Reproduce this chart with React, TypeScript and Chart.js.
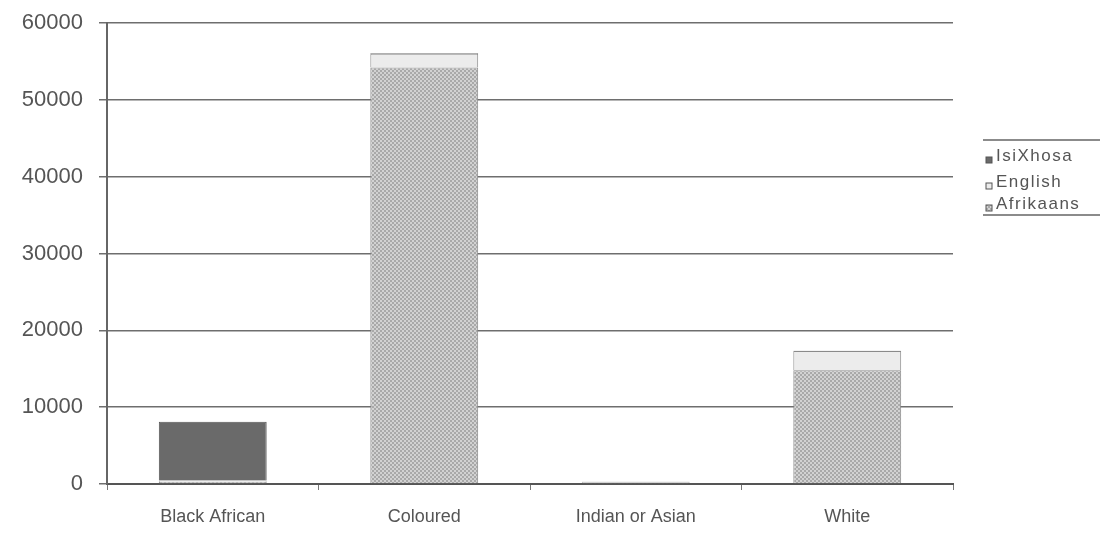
import React, { useEffect, useRef } from "react";
import { Chart, registerables } from "chart.js";

Chart.register(...registerables);

const categories = ["Black African", "Coloured", "Indian or Asian", "White"];
const afrikaans = [300, 54200, 150, 14800];
const english = [150, 1800, 100, 2500];
const isiXhosa = [7650, 100, 50, 50];
const yTicks = [0, 10000, 20000, 30000, 40000, 50000, 60000];
const legendLabels = ["IsiXhosa", "English", "Afrikaans"];

const FONT = "'Liberation Sans', Arial, sans-serif";

function makePattern(): CanvasPattern | string {
  const c = document.createElement("canvas");
  c.width = 4;
  c.height = 4;
  const ctx = c.getContext("2d");
  if (!ctx) return "#b0b0b0";
  ctx.fillStyle = "#a9a9a9";
  ctx.fillRect(0, 0, 4, 4);
  ctx.fillStyle = "#d2d2d2";
  ctx.fillRect(0, 0, 2, 2);
  ctx.fillRect(2, 2, 2, 2);
  const p = ctx.createPattern(c, "repeat");
  return p || "#b0b0b0";
}

export default function App() {
  const ref = useRef<HTMLCanvasElement | null>(null);
  useEffect(() => {
    if (!ref.current) return;
    const pattern = makePattern();
    const colors = { IsiXhosa: "#6a6a6a", English: "#ececec", Afrikaans: pattern };
    const legendPlugin = {
      id: "customLegend",
      afterDraw(chart: any) {
        const ctx = chart.ctx;
        ctx.save();
        ctx.strokeStyle = "#666";
        ctx.lineWidth = 1.5;
        ctx.beginPath();
        ctx.moveTo(983, 140);
        ctx.lineTo(1100, 140);
        ctx.moveTo(983, 215);
        ctx.lineTo(1100, 215);
        ctx.stroke();
        const ys = [156, 182, 204];
        const fills: any[] = [colors.IsiXhosa, colors.English, colors.Afrikaans];
        ctx.font = "17px " + FONT;
        try {
          (ctx as any).letterSpacing = "1.5px";
        } catch (e) {}
        ctx.textBaseline = "middle";
        ctx.textAlign = "left";
        legendLabels.forEach((lab, i) => {
          ctx.fillStyle = fills[i];
          ctx.fillRect(986, ys[i] + 1, 6, 6);
          ctx.strokeStyle = "#555";
          ctx.lineWidth = 1;
          ctx.strokeRect(986, ys[i] + 1, 6, 6);
          ctx.fillStyle = "#555";
          ctx.fillText(lab, 996, ys[i]);
        });
        ctx.restore();
      },
    };
    const chart = new Chart(ref.current, {
      type: "bar",
      data: {
        labels: categories,
        datasets: [
          {
            label: "Afrikaans",
            data: afrikaans,
            backgroundColor: colors.Afrikaans as any,
            borderColor: "#8a8a8a",
            borderWidth: 1,
          },
          {
            label: "English",
            data: english,
            backgroundColor: colors.English,
            borderColor: "#8a8a8a",
            borderWidth: 1,
          },
          {
            label: "IsiXhosa",
            data: isiXhosa,
            backgroundColor: colors.IsiXhosa,
            borderColor: "#555",
            borderWidth: 1,
          },
        ],
      },
      plugins: [legendPlugin],
      options: {
        animation: false,
        responsive: false,
        maintainAspectRatio: false,
        layout: { padding: { left: 0, right: 153, top: 23, bottom: 0 } },
        plugins: { legend: { display: false }, tooltip: { enabled: false } },
        datasets: { bar: { categoryPercentage: 1, barPercentage: 0.51 } } as any,
        scales: {
          x: {
            stacked: true,
            grid: { display: true, drawOnChartArea: false, drawTicks: true, tickLength: 6, color: "#777", offset: true },
            border: { color: "#555", width: 2 },
            ticks: {
              color: "#555",
              font: { family: FONT, size: 18 },
              padding: 16,
            },
            afterFit: (s: any) => {
              s.height = 50;
              s.paddingLeft = 0;
              s.paddingRight = 0;
            },
          },
          y: {
            stacked: true,
            min: 0,
            max: 60000,
            afterBuildTicks: (s: any) => {
              s.ticks = yTicks.map((v) => ({ value: v }));
            },
            grid: { color: "#6e6e6e", lineWidth: 1.5, tickLength: 8 },
            border: { color: "#666", width: 2 },
            ticks: {
              color: "#555",
              font: { family: FONT, size: 22 },
              padding: 16,
              callback: (v: any) => String(v),
            },
            afterFit: (s: any) => {
              s.width = 107;
              s.paddingTop = 0;
              s.paddingBottom = 0;
            },
          },
        },
      },
    });
    return () => chart.destroy();
  }, []);
  return (
    <div style={{ position: "fixed", left: 0, top: 0, width: 1106, height: 534, background: "#fff" }}>
      <canvas ref={ref} width={1106} height={534} style={{ width: 1106, height: 534 }} />
    </div>
  );
}
